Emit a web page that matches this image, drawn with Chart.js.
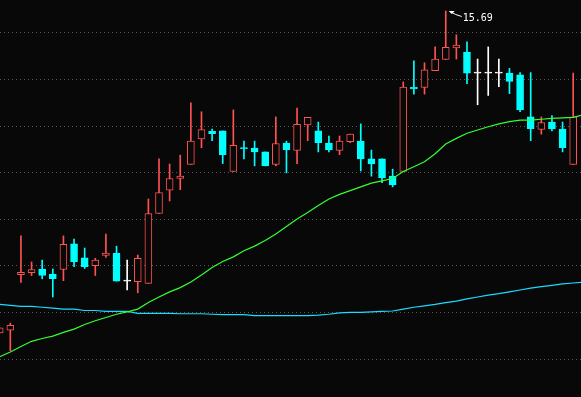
<!DOCTYPE html>
<html>
<head>
<meta charset="utf-8">
<script src="https://cdn.jsdelivr.net/npm/chart.js@4/dist/chart.umd.min.js"></script>
<style>
  html, body { margin: 0; padding: 0; background: #080808; }
  #kChart { display: block; }
</style>
</head>
<body>
<canvas id="kChart" width="581" height="397"></canvas>
<script>
// Daily K-line data
const opens = [8.79, 8.85, 10.04, 10.08, 10.16, 10.05, 10.15, 10.70, 10.40, 10.23,
  10.45, 10.50, 9.90, 9.89, 9.85, 11.35, 11.85, 12.10, 12.40, 12.95,
  13.11, 13.12, 12.25, 12.75, 12.75, 12.67, 12.40, 12.86, 12.70, 13.25,
  13.12, 12.86, 12.70, 12.89, 12.90, 12.52, 12.52, 12.15, 12.25, 14.06,
  14.05, 14.41, 14.65, 14.90, 14.81, 14.36, 14.36, 14.36, 14.36, 14.32,
  13.42, 13.15, 13.31, 13.16, 12.40];
const highs = [8.90, 9.00, 10.87, 10.31, 10.35, 10.16, 10.87, 10.80, 10.61, 10.39,
  10.91, 10.65, 10.35, 10.46, 11.66, 12.52, 12.41, 12.60, 13.72, 13.53,
  13.16, 13.12, 13.57, 12.90, 12.90, 12.67, 13.42, 12.90, 13.61, 13.41,
  13.31, 13.01, 13.01, 13.05, 13.27, 12.71, 12.52, 12.30, 14.17, 14.62,
  14.58, 14.92, 15.69, 15.18, 15.03, 14.66, 14.92, 14.66, 14.46, 14.37,
  14.37, 13.42, 13.45, 13.31, 14.36];
const lows = [8.79, 8.41, 9.87, 10.02, 9.95, 9.56, 9.91, 10.21, 10.17, 10.02,
  10.41, 9.90, 9.71, 9.65, 9.85, 11.35, 11.62, 11.86, 12.40, 12.76,
  12.91, 12.42, 12.25, 12.52, 12.37, 12.37, 12.37, 12.22, 12.42, 12.91,
  12.67, 12.67, 12.61, 12.87, 12.26, 12.15, 12.01, 11.92, 12.25, 13.91,
  13.91, 14.41, 14.65, 14.66, 14.13, 13.68, 13.88, 14.07, 13.92, 13.53,
  12.91, 13.05, 13.12, 12.67, 12.40];
const closes = [8.90, 8.95, 10.09, 10.15, 10.02, 9.95, 10.69, 10.31, 10.21, 10.35,
  10.50, 9.90, 9.90, 10.39, 11.35, 11.80, 12.10, 12.15, 12.90, 13.15,
  13.06, 12.61, 12.81, 12.74, 12.67, 12.37, 12.85, 12.72, 13.26, 13.41,
  12.87, 12.71, 12.90, 13.05, 12.52, 12.41, 12.11, 11.96, 14.06, 14.02,
  14.43, 14.66, 14.91, 14.96, 14.36, 14.36, 14.36, 14.36, 14.18, 13.57,
  13.17, 13.30, 13.16, 12.76, 13.42];

// Moving averages (one extra point runs past the last candle)
const maShort = [8.28, 8.38, 8.50, 8.61, 8.67, 8.72, 8.80, 8.87, 8.97, 9.05,
  9.12, 9.19, 9.24, 9.30, 9.44, 9.56, 9.67, 9.76, 9.88, 10.03,
  10.19, 10.32, 10.42, 10.55, 10.65, 10.77, 10.91, 11.07, 11.23, 11.37,
  11.52, 11.66, 11.76, 11.84, 11.92, 12.00, 12.05, 12.10, 12.25, 12.35,
  12.46, 12.63, 12.84, 12.96, 13.07, 13.14, 13.21, 13.27, 13.32, 13.35,
  13.35, 13.37, 13.39, 13.40, 13.41, 13.47];
const maLong = [9.40, 9.38, 9.36, 9.36, 9.34, 9.32, 9.30, 9.30, 9.27, 9.27,
  9.25, 9.25, 9.25, 9.21, 9.21, 9.21, 9.21, 9.20, 9.20, 9.20,
  9.19, 9.18, 9.18, 9.18, 9.16, 9.16, 9.16, 9.16, 9.16, 9.16,
  9.17, 9.19, 9.22, 9.23, 9.23, 9.24, 9.25, 9.26, 9.30, 9.34,
  9.37, 9.40, 9.44, 9.47, 9.52, 9.56, 9.60, 9.63, 9.67, 9.71,
  9.75, 9.78, 9.81, 9.84, 9.86, 9.88];

// Price levels of the dotted grid lines
const gridLevels = [15.225, 14.225, 13.225, 12.225, 11.225, 10.225, 9.225, 8.225];

const UP = '#ff5252';
const DOWN = '#00ffff';
const FLAT = '#ffffff';
const BG = '#080808';

function candleColor(i) {
    if (closes[i] > opens[i]) return UP;
    if (closes[i] < opens[i]) return DOWN;
    return FLAT;
}

// Background fill
const bgPlugin = {
    id: 'bg',
    beforeDraw(chart) {
        const ctx = chart.ctx;
        ctx.save();
        ctx.fillStyle = BG;
        ctx.fillRect(0, 0, chart.width, chart.height);
        ctx.restore();
    }
};

// Arrow + label at the highest price
const maxLabelPlugin = {
    id: 'maxLabel',
    afterDatasetsDraw(chart) {
        const idx = highs.indexOf(Math.max(...highs));
        const x = chart.scales.x.getPixelForValue(idx);
        const y = chart.scales.y.getPixelForValue(highs[idx]);
        const ctx = chart.ctx;
        ctx.save();
        ctx.strokeStyle = '#ffffff';
        ctx.fillStyle = '#ffffff';
        ctx.lineWidth = 1;
        ctx.beginPath();
        ctx.moveTo(x + 4, y + 0.5);
        ctx.lineTo(x + 10, y + 3.5);
        ctx.lineTo(x + 16, y + 5.5);
        ctx.stroke();
        ctx.beginPath();
        ctx.moveTo(x + 3, y);
        ctx.lineTo(x + 9, y);
        ctx.lineTo(x + 6, y + 3);
        ctx.closePath();
        ctx.fill();
        ctx.font = '10px "DejaVu Sans Mono"';
        ctx.textBaseline = 'alphabetic';
        ctx.fillText(highs[idx].toFixed(2), x + 17, y + 10);
        ctx.restore();
    }
};

const wickData = highs.map((h, i) => ({ x: i, y: [lows[i], h] }));
const bodyData = opens.map((o, i) => ({ x: i, y: [o, closes[i]] }));

new Chart(document.getElementById('kChart'), {
    data: {
        datasets: [{
            type: 'bar',
            label: 'wick',
            data: wickData,
            barThickness: 1,
            grouped: false,
            backgroundColor: ctx => candleColor(ctx.dataIndex),
            order: 3
        }, {
            type: 'bar',
            label: 'body',
            data: bodyData,
            barThickness: 7,
            grouped: false,
            minBarLength: 1,
            borderWidth: 1,
            borderSkipped: false,
            borderColor: ctx => candleColor(ctx.dataIndex),
            backgroundColor: ctx => candleColor(ctx.dataIndex) === UP ? BG : candleColor(ctx.dataIndex),
            order: 2
        }, {
            type: 'line',
            label: 'MA short',
            data: maShort.map((v, i) => ({ x: i, y: v })),
            borderColor: '#33ff33',
            borderWidth: 1.2,
            pointRadius: 0,
            tension: 0,
            order: 1
        }, {
            type: 'line',
            label: 'MA long',
            data: maLong.map((v, i) => ({ x: i, y: v })),
            borderColor: '#1adcff',
            borderWidth: 1.2,
            pointRadius: 0,
            tension: 0,
            order: 1
        }]
    },
    options: {
        responsive: false,
        animation: false,
        layout: { padding: 0 },
        scales: {
            x: {
                type: 'linear',
                display: false,
                offset: false,
                min: 0.028,
                max: 54.736
            },
            y: {
                type: 'linear',
                min: 7.416,
                max: 15.926,
                afterBuildTicks: scale => {
                    scale.ticks = gridLevels.map(v => ({ value: v }));
                },
                ticks: { display: false },
                border: { display: false, dash: [1, 3] },
                grid: {
                    color: '#5a5a5a',
                    lineWidth: 1,
                    drawTicks: false
                }
            }
        },
        plugins: {
            legend: { display: false },
            tooltip: { enabled: false }
        }
    },
    plugins: [bgPlugin, maxLabelPlugin]
});
</script>
</body>
</html>
